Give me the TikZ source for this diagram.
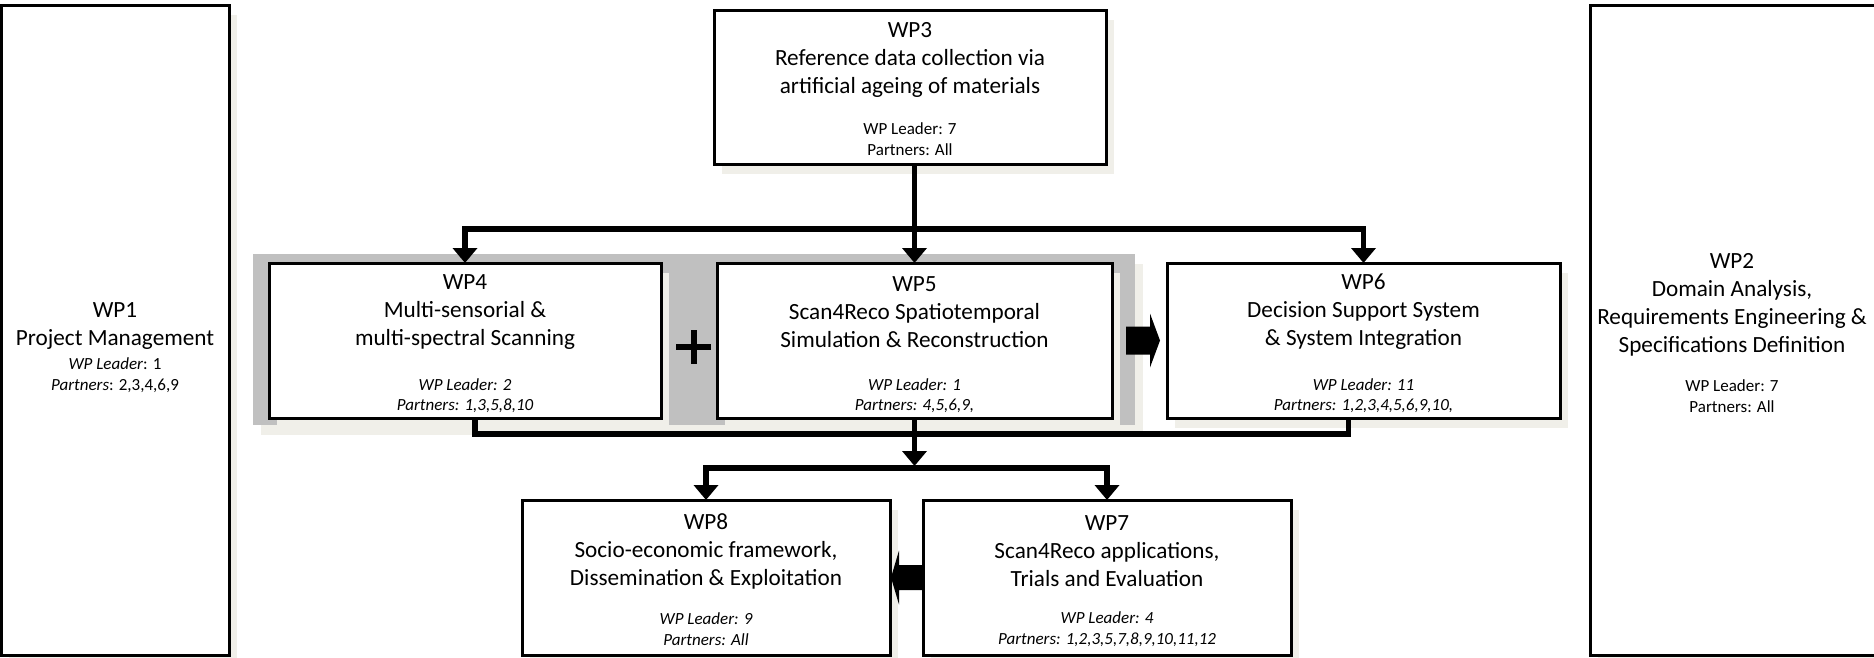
\documentclass[tikz,border=0pt]{standalone}
\usepackage{fontspec}
\setmainfont{Carlito}
\usetikzlibrary{arrows.meta,calc,shadows}
\definecolor{shadowc}{RGB}{240,239,233}
\definecolor{grpgray}{RGB}{192,192,192}
\tikzset{
  wpbox/.style={draw=black, line width=3pt, fill=white, rectangle, inner sep=0pt, outer sep=0pt,
    general shadow={fill=shadowc, shadow xshift=8pt, shadow yshift=-10pt}},
  grpbox/.style={fill=grpgray, rectangle, inner sep=0pt, outer sep=0pt,
    general shadow={fill=shadowc, shadow xshift=8pt, shadow yshift=-10pt}},
  ttl/.style={align=center, font=\fontsize{23.2}{28}\selectfont, inner sep=0pt},
  sml/.style={align=center, font=\fontsize{17}{20.5}\selectfont, inner sep=0pt},
  conn/.style={line width=5.5pt, draw=black},
  arr/.style={conn, -{Triangle[width=24pt,length=15pt]}},
  blockarrow/.style={fill=black},
  plussign/.style={line width=6pt, draw=black},
}
\begin{document}
\begin{tikzpicture}[x=1pt,y=-1pt]
\useasboundingbox (0,0) rectangle (1874,657);

% grey group behind WP4 and WP5
\node[grpbox, minimum width=882pt, minimum height=171pt] (grp) at (694,339.5) {};

% boxes
\node[wpbox, minimum width=228pt, minimum height=650pt] (wp1) at (115,330) {};
\node[wpbox, minimum width=286pt, minimum height=650pt] (wp2) at (1733,330) {};
\node[wpbox, minimum width=392pt, minimum height=154pt] (wp3) at (910,87) {};
\node[wpbox, minimum width=392pt, minimum height=155pt] (wp4) at (465,340.5) {};
\node[wpbox, minimum width=395pt, minimum height=155pt] (wp5) at (914.5,340.5) {};
\node[wpbox, minimum width=393pt, minimum height=155pt] (wp6) at (1363.5,340.5) {};
\node[wpbox, minimum width=368pt, minimum height=155pt] (wp7) at (1107,577.5) {};
\node[wpbox, minimum width=368pt, minimum height=155pt] (wp8) at (706,577.5) {};

% texts
\node[ttl] (t1) at (115,326.5) {WP1\\Project Management};
\node[sml] (s1) at (115,375) {\textit{WP Leader}: 1\\\textit{Partners}: 2,3,4,6,9};

\node[ttl] (t2) at (1732,305) {WP2\\Domain Analysis,\\Requirements Engineering \&\\Specifications Definition};
\node[sml] (s2) at (1732,396) {WP Leader: 7\\Partners: All};

\node[ttl] (t3) at (910,60) {WP3\\Reference data collection via\\artificial ageing of materials};
\node[sml] (s3) at (910,139) {WP Leader: 7\\Partners: All};

\node[ttl] (t4) at (465,312) {WP4\\Multi-sensorial \&\\multi-spectral Scanning};
\node[sml] (s4) at (465,395.5) {\itshape WP Leader: 2\\\itshape Partners: 1,3,5,8,10};

\node[ttl] (t5) at (914.5,312) {WP5\\Scan4Reco Spatiotemporal\\Simulation \& Reconstruction};
\node[sml] (s5) at (914.5,395.5) {\itshape WP Leader: 1\\\itshape Partners: 4,5,6,9,};

\node[ttl] (t6) at (1363.5,312) {WP6\\Decision Support System\\\& System Integration};
\node[sml] (s6) at (1363.5,395.5) {\itshape WP Leader: 11\\\itshape Partners: 1,2,3,4,5,6,9,10,};

\node[ttl] (t8) at (706,551) {WP8\\Socio-economic framework,\\Dissemination \& Exploitation};
\node[sml] (s8) at (706,629) {\itshape WP Leader: 9\\\itshape Partners: All};

\node[ttl] (t7) at (1107,551) {WP7\\Scan4Reco applications,\\Trials and Evaluation};
\node[sml] (s7) at (1107,629) {\itshape WP Leader: 4\\\itshape Partners: 1,2,3,5,7,8,9,10,11,12};

% plus sign between WP4 and WP5
\draw[plussign] (676,347) -- (711,347);
\draw[plussign] (693.5,330) -- (693.5,364);

% connectors from WP3
\coordinate (b1) at ($(wp5.north)+(0,-34)$);
\draw[arr] (wp3.south -| wp5.north) -- (wp5.north);
\draw[arr] (b1) -| (wp4.north);
\draw[arr] (b1) -| (wp6.north);

% bottom bus from WP4, WP6
\coordinate (w4s) at ($(wp4.south)+(10,0)$);
\coordinate (w6s) at ($(wp6.south)+(-15,0)$);
\coordinate (b2) at ($(wp4.south)+(10,16)$);
\draw[conn] (w4s) -- (b2) -| (w6s);

% WP5 down to second bus
\coordinate (b3) at ($(wp5.south)+(0,50)$);
\draw[arr, shorten >=2pt] (wp5.south) -- (b3);
\draw[arr] (b3) -| (wp8.north);
\draw[arr] (b3) -| (wp7.north);

% block arrow WP5 -> WP6
\fill[blockarrow] ($(wp5.east)+(14,-14)$) -- ($(wp5.east)+(38,-14)$) -- ($(wp5.east)+(38,-27)$)
  -- ($(wp5.east)+(48,0)$) -- ($(wp5.east)+(38,27)$) -- ($(wp5.east)+(38,14)$)
  -- ($(wp5.east)+(14,14)$) -- cycle;

% block arrow WP7 -> WP8
\fill[blockarrow] ($(wp7.west)+(0,-12.5)$) -- ($(wp7.west)+(-24,-12.5)$) -- ($(wp7.west)+(-24,-27)$)
  -- ($(wp7.west)+(-32,0)$) -- ($(wp7.west)+(-24,27)$) -- ($(wp7.west)+(-24,12.5)$)
  -- ($(wp7.west)+(0,12.5)$) -- cycle;
\end{tikzpicture}
\end{document}
